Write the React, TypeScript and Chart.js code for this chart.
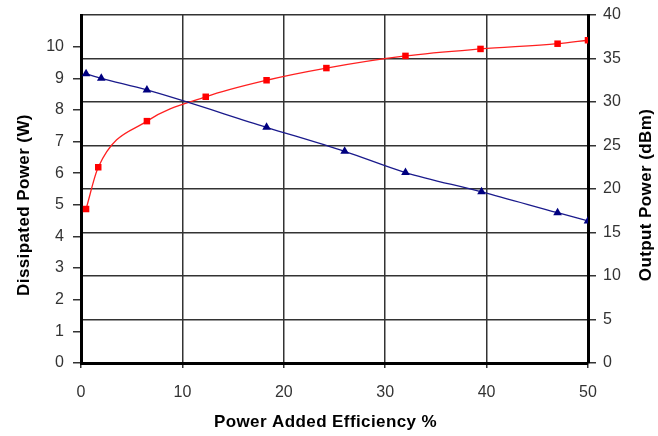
import React, { useEffect, useRef } from "react";
import { Chart, registerables } from "chart.js";

Chart.register(...registerables);

const dissipatedX = [0.5, 2, 6.5, 18.3, 26, 32, 39.5, 47, 50];
const dissipatedW = [9.14, 9.0, 8.63, 7.45, 6.69, 6.02, 5.41, 4.75, 4.49];
const outputX = [0.5, 1.7, 6.5, 12.3, 18.3, 24.2, 32, 39.4, 47, 50];
const outputDbm = [17.7, 22.5, 27.8, 30.6, 32.5, 33.9, 35.3, 36.1, 36.7, 37.1];

const xTitle = "Power Added Efficiency %";
const yTitle = "Dissipated Power (W)";
const y1Title = "Output Power (dBm)";

const FONT = "'Liberation Sans', Arial, sans-serif";

const titlePlugin = {
  id: "customTitles",
  afterDraw(chart: any) {
    const { ctx, chartArea } = chart;
    ctx.save();
    ctx.fillStyle = "#000";
    ctx.font = `bold 17px ${FONT}`;
    try { (ctx as any).letterSpacing = "0.4px"; } catch (e) {}
    ctx.textAlign = "center";
    ctx.textBaseline = "middle";
    ctx.fillText(xTitle, (chartArea.left + chartArea.right) / 2 - 9, 422);
    ctx.save();
    ctx.translate(24, (chartArea.top + chartArea.bottom) / 2 + 16);
    ctx.rotate(-Math.PI / 2);
    ctx.fillText(yTitle, 0, 0);
    ctx.restore();
    ctx.save();
    ctx.translate(646, (chartArea.top + chartArea.bottom) / 2 + 6);
    ctx.rotate(-Math.PI / 2);
    ctx.fillText(y1Title, 0, 0);
    ctx.restore();
    ctx.restore();
  },
};

export default function App() {
  const ref = useRef<HTMLCanvasElement>(null);
  useEffect(() => {
    document.body.style.margin = "0";
    const chart = new Chart(ref.current!, {
      type: "line",
      data: {
        datasets: [
          {
            label: "Dissipated Power",
            data: dissipatedX.map((x, i) => ({ x, y: dissipatedW[i] })),
            yAxisID: "y",
            borderColor: "#1a1a8c",
            backgroundColor: "#000080",
            borderWidth: 1.3,
            pointStyle: "triangle",
            pointRadius: 5,
            pointBorderWidth: 0,
            cubicInterpolationMode: "monotone",
          },
          {
            label: "Output Power",
            data: outputX.map((x, i) => ({ x, y: outputDbm[i] })),
            yAxisID: "y1",
            borderColor: "#ff2020",
            backgroundColor: "#ff0000",
            borderWidth: 1.3,
            pointStyle: "rect",
            pointRadius: 4.6,
            pointBorderWidth: 0,
            cubicInterpolationMode: "monotone",
          },
        ],
      },
      options: {
        responsive: false,
        animation: false,
        layout: { padding: { top: 15, left: 0, right: 0, bottom: 0 } },
        plugins: { legend: { display: false }, tooltip: { enabled: false } },
        scales: {
          x: {
            type: "linear",
            position: "bottom",
            min: 0,
            max: 50,
            ticks: { stepSize: 10, font: { family: FONT, size: 16 }, color: "#333", padding: 15 },
            grid: { color: "#333", lineWidth: 1.5, tickLength: 5, drawOnChartArea: true },
            border: { color: "#000", width: 3 },
            afterFit: (s: any) => { s.height = 73; s.paddingLeft = 0; s.paddingRight = 0; },
          },
          y: {
            type: "linear",
            position: "left",
            min: 0,
            max: 11,
            ticks: { stepSize: 1, font: { family: FONT, size: 16 }, color: "#333", padding: 9 },
            afterBuildTicks: (s: any) => { s.ticks = s.ticks.filter((t: any) => t.value <= 10); },
            grid: { color: "#333", lineWidth: 1.5, tickLength: 8, drawOnChartArea: false },
            border: { color: "#000", width: 3 },
            afterFit: (s: any) => { s.width = 81; s.paddingTop = 0; s.paddingBottom = 0; },
          },
          y1: {
            type: "linear",
            position: "right",
            min: 0,
            max: 40,
            ticks: { stepSize: 5, font: { family: FONT, size: 16 }, color: "#333", padding: 7 },
            grid: { color: "#333", lineWidth: 1.5, tickLength: 8, drawOnChartArea: true },
            border: { color: "#000", width: 3 },
            afterFit: (s: any) => { s.width = 70; s.paddingTop = 0; s.paddingBottom = 0; },
          },
        },
      },
      plugins: [titlePlugin],
    });
    return () => chart.destroy();
  }, []);
  return <canvas ref={ref} width={658} height={436} />;
}
